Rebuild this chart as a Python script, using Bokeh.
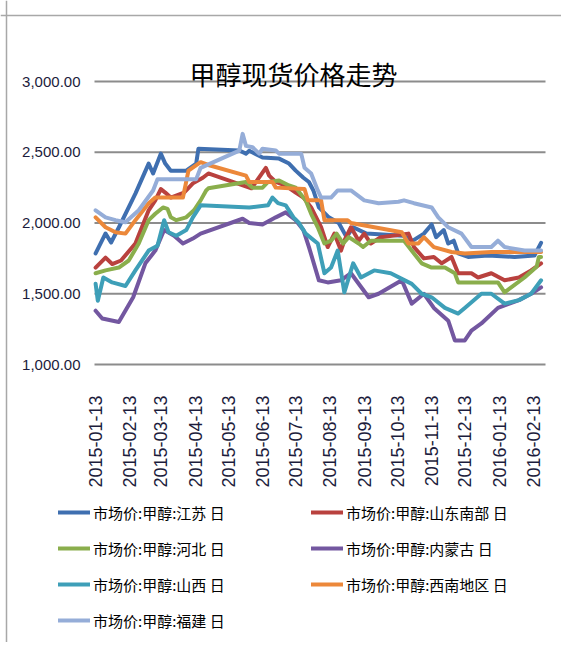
import math
import pandas as pd
from bokeh.plotting import figure
from bokeh.models import (FixedTicker, DatetimeTickFormatter, Legend, LegendItem,
                          Label, Range1d, NumeralTickFormatter, Span)
from bokeh.embed import file_html
from bokeh.resources import INLINE

# ---------------- data ----------------
title_text = "甲醇现货价格走势"

tick_dates = ["2015-01-13", "2015-02-13", "2015-03-13", "2015-04-13", "2015-05-13",
              "2015-06-13", "2015-07-13", "2015-08-13", "2015-09-13", "2015-10-13",
              "2015-11-13", "2015-12-13", "2016-01-13", "2016-02-13"]
y_ticks = [1000, 1500, 2000, 2500, 3000]

series_names = ["市场价:甲醇:江苏 日", "市场价:甲醇:山东南部 日", "市场价:甲醇:河北 日",
                "市场价:甲醇:内蒙古 日", "市场价:甲醇:山西 日", "市场价:甲醇:西南地区 日",
                "市场价:甲醇:福建 日"]
series_colors = ["#3F6FB0", "#B9413E", "#8AAE4C", "#7357A0", "#3E9FB8", "#EC883A", "#95ADD8"]

jiangsu_dates = ["2015-01-13", "2015-01-22", "2015-01-27", "2015-02-03", "2015-02-18",
                 "2015-03-02", "2015-03-06", "2015-03-13", "2015-03-17", "2015-03-22",
                 "2015-04-05", "2015-04-14", "2015-04-16", "2015-05-23", "2015-05-29",
                 "2015-06-01", "2015-06-13", "2015-06-28", "2015-07-07", "2015-07-13",
                 "2015-07-20", "2015-07-25", "2015-07-29", "2015-08-03", "2015-08-12",
                 "2015-08-21", "2015-08-28", "2015-09-03", "2015-09-15", "2015-10-18",
                 "2015-10-27", "2015-11-06", "2015-11-13", "2015-11-17", "2015-11-24",
                 "2015-11-28", "2015-12-03", "2015-12-07", "2015-12-16", "2016-01-03",
                 "2016-01-27", "2016-02-14", "2016-02-20"]
jiangsu_vals = [1785, 1926, 1862, 1968, 2208, 2420, 2350, 2490, 2420, 2370,
                2370, 2420, 2525, 2512, 2490, 2510, 2463, 2455, 2420, 2370,
                2320, 2290, 2230, 2110, 2040, 2000, 1900, 1970, 1925, 1910,
                1875, 1925, 1990, 1900, 1950, 1855, 1875, 1785, 1760, 1770,
                1760, 1770, 1860]

shandong_dates = ["2015-01-13", "2015-01-22", "2015-01-28", "2015-02-05", "2015-02-18",
                  "2015-03-02", "2015-03-08", "2015-03-13", "2015-03-17", "2015-03-22",
                  "2015-04-03", "2015-04-11", "2015-04-20", "2015-04-25", "2015-06-03",
                  "2015-06-16", "2015-06-19", "2015-06-25", "2015-07-04", "2015-07-13",
                  "2015-07-20", "2015-07-27", "2015-08-05", "2015-08-11", "2015-08-17",
                  "2015-08-23", "2015-08-26", "2015-09-01", "2015-09-08", "2015-09-13",
                  "2015-09-19", "2015-09-28", "2015-10-23", "2015-10-28", "2015-11-06",
                  "2015-11-15", "2015-11-22", "2015-12-01", "2015-12-07", "2015-12-19",
                  "2015-12-25", "2016-01-06", "2016-01-18", "2016-01-31", "2016-02-11",
                  "2016-02-20"]
shandong_vals = [1685, 1755, 1710, 1735, 1855, 2090, 2160, 2240, 2215, 2180,
                 2215, 2280, 2320, 2350, 2245, 2390, 2335, 2290, 2265, 2215,
                 2180, 2110, 1970, 1830, 1925, 1805, 1875, 1970, 1875, 1925,
                 1855, 1900, 1925, 1830, 1750, 1760, 1715, 1760, 1645, 1645,
                 1615, 1645, 1595, 1615, 1665, 1715]

hebei_dates = ["2015-01-13", "2015-01-22", "2015-02-03", "2015-02-12", "2015-02-21",
               "2015-03-02", "2015-03-08", "2015-03-15", "2015-03-19", "2015-03-22",
               "2015-03-27", "2015-04-05", "2015-04-12", "2015-04-18", "2015-04-23",
               "2015-04-25", "2015-05-29", "2015-06-04", "2015-06-13", "2015-06-18",
               "2015-06-28", "2015-07-07", "2015-07-13", "2015-07-22", "2015-07-27",
               "2015-08-02", "2015-08-08", "2015-08-14", "2015-08-19", "2015-08-25",
               "2015-08-30", "2015-09-08", "2015-09-12", "2015-09-19", "2015-10-19",
               "2015-10-28", "2015-11-04", "2015-11-13", "2015-11-25", "2015-12-04",
               "2015-12-07", "2016-01-12", "2016-01-18", "2016-02-05", "2016-02-16",
               "2016-02-18", "2016-02-20"]
hebei_vals = [1645, 1665, 1685, 1735, 1855, 2020, 2065, 2110, 2100, 2040,
              2020, 2040, 2090, 2160, 2230, 2245, 2290, 2250, 2250, 2290,
              2300, 2265, 2250, 2160, 2065, 1970, 1855, 1875, 1925, 1855,
              1900, 1855, 1830, 1875, 1875, 1785, 1715, 1685, 1685, 1645,
              1580, 1580, 1510, 1615, 1690, 1760, 1760]

nmg_dates = ["2015-01-13", "2015-01-19", "2015-02-03", "2015-02-16", "2015-02-27",
             "2015-03-08", "2015-03-16", "2015-03-25", "2015-04-02", "2015-04-11",
             "2015-04-18", "2015-05-26", "2015-06-01", "2015-06-13", "2015-06-25",
             "2015-07-04", "2015-07-13", "2015-07-20", "2015-07-25", "2015-08-03",
             "2015-08-11", "2015-08-23", "2015-09-01", "2015-09-17", "2015-09-26",
             "2015-10-17", "2015-10-26", "2015-11-06", "2015-11-15", "2015-11-28",
             "2015-12-04", "2015-12-13", "2015-12-19", "2015-12-28", "2016-01-12",
             "2016-01-31", "2016-02-11", "2016-02-20"]
nmg_vals = [1380, 1325, 1300, 1475, 1715, 1805, 1950, 1910, 1855, 1890,
            1925, 2030, 2000, 1990, 2040, 2075, 2020, 1950, 1830, 1595,
            1580, 1595, 1645, 1475, 1500, 1595, 1430, 1500, 1400, 1310,
            1170, 1170, 1240, 1290, 1400, 1455, 1500, 1545]

shanxi_dates = ["2015-01-13", "2015-01-15", "2015-01-20", "2015-01-28", "2015-02-09",
                "2015-02-18", "2015-03-02", "2015-03-10", "2015-03-16", "2015-03-20",
                "2015-03-27", "2015-04-05", "2015-04-11", "2015-04-18", "2015-06-01",
                "2015-06-18", "2015-06-22", "2015-06-27", "2015-07-04", "2015-07-11",
                "2015-07-16", "2015-07-22", "2015-08-02", "2015-08-08", "2015-08-14",
                "2015-08-20", "2015-08-26", "2015-09-03", "2015-09-10", "2015-09-22",
                "2015-10-07", "2015-10-26", "2015-11-04", "2015-11-13", "2015-11-25",
                "2015-12-07", "2015-12-13", "2015-12-28", "2016-01-06", "2016-01-18",
                "2016-01-31", "2016-02-11", "2016-02-20"]
shanxi_vals = [1570, 1450, 1615, 1580, 1555, 1665, 1805, 1840, 2020, 1935,
               1910, 1950, 2040, 2125, 2110, 2125, 2180, 2140, 2125, 2040,
               2000, 1925, 1855, 1645, 1685, 1805, 1510, 1715, 1615, 1665,
               1645, 1570, 1500, 1475, 1400, 1360, 1400, 1500, 1500, 1430,
               1455, 1500, 1595]

xinan_dates = ["2015-01-13", "2015-01-22", "2015-01-31", "2015-02-09", "2015-02-18",
               "2015-03-02", "2015-03-08", "2015-04-02", "2015-04-07", "2015-04-18",
               "2015-04-25", "2015-05-29", "2015-06-01", "2015-06-22", "2015-06-25",
               "2015-07-21", "2015-07-24", "2015-08-05", "2015-08-08", "2015-08-29",
               "2015-09-01", "2015-10-17", "2015-10-23", "2015-11-01", "2015-11-06",
               "2015-11-15", "2015-12-01", "2015-12-13", "2016-01-06", "2016-02-20"]
xinan_vals = [2040, 1970, 1935, 1925, 2020, 2140, 2180, 2180, 2370, 2430,
              2410, 2335, 2290, 2290, 2250, 2240, 2160, 2160, 2020, 2020,
              2000, 1935, 1855, 1855, 1900, 1830, 1795, 1785, 1795, 1795]

fujian_dates = ["2015-01-13", "2015-01-22", "2015-01-31", "2015-02-09", "2015-02-21",
                "2015-03-06", "2015-03-10", "2015-04-14", "2015-04-18", "2015-05-23",
                "2015-05-26", "2015-05-29", "2015-06-04", "2015-06-10", "2015-06-13",
                "2015-06-25", "2015-06-28", "2015-07-18", "2015-07-21", "2015-07-27",
                "2015-08-02", "2015-08-05", "2015-08-14", "2015-08-20", "2015-09-01",
                "2015-09-13", "2015-09-26", "2015-10-14", "2015-10-19", "2015-10-28",
                "2015-11-13", "2015-11-19", "2015-11-28", "2015-12-10", "2015-12-19",
                "2016-01-06", "2016-01-12", "2016-01-18", "2016-02-05", "2016-02-20"]
fujian_vals = [2090, 2040, 2020, 2005, 2090, 2230, 2310, 2310, 2390, 2512,
               2630, 2545, 2535, 2490, 2525, 2512, 2490, 2490, 2390, 2350,
               2230, 2180, 2180, 2230, 2230, 2160, 2140, 2150, 2160, 2140,
               2110, 2040, 1970, 1925, 1830, 1830, 1875, 1830, 1805, 1805]

all_dates = [jiangsu_dates, shandong_dates, hebei_dates, nmg_dates,
             shanxi_dates, xinan_dates, fujian_dates]
all_vals = [jiangsu_vals, shandong_vals, hebei_vals, nmg_vals,
            shanxi_vals, xinan_vals, fujian_vals]


def ms(d):
    return pd.Timestamp(d).value / 1e6


# ---------------- layout geometry (pixels) ----------------
W, H = 561, 642
X_FIRST_PX, X_LAST_PX = 94.0, 545.0      # gridded plotting area, left/right
Y_HI_PX, Y_LO_PX = 81.0, 364.0           # pixel rows of the 3000 and 1000 lines

x_first = ms("2015-01-12")
x_last = ms("2016-02-24")
px_per_ms = (X_LAST_PX - X_FIRST_PX) / (x_last - x_first)
x_start = x_first - X_FIRST_PX / px_per_ms
x_end = x_start + W / px_per_ms

px_per_unit = (Y_LO_PX - Y_HI_PX) / (y_ticks[-1] - y_ticks[0])
y_top = y_ticks[-1] + Y_HI_PX / px_per_unit
y_start = y_top - H / px_per_unit

p = figure(width=W, height=H, x_axis_type="datetime",
           output_backend="svg", toolbar_location=None,
           x_range=Range1d(x_start, x_end),
           y_range=Range1d(y_start, y_top),
           min_border_left=0, min_border_right=0,
           min_border_top=0, min_border_bottom=0)
p.outline_line_color = None
p.background_fill_color = "white"
p.border_fill_color = "white"
p.xgrid.grid_line_color = None
p.ygrid.grid_line_color = None

# sheet border lines (top and left) seen around the chart
p.add_layout(Span(location=y_top - 15 / px_per_unit, dimension="width",
                  line_color="#a8a8a8", line_width=1.5))
p.add_layout(Span(location=x_start + 6 / px_per_ms, dimension="height",
                  line_color="#a8a8a8", line_width=1.5))

# horizontal gridlines spanning the plotting area only
p.segment(x0=[x_first] * len(y_ticks), x1=[x_last] * len(y_ticks),
          y0=y_ticks, y1=y_ticks, line_color="#8c8c8c", line_width=2)

# y axis (fixed at left edge of plotting area)
p.yaxis.fixed_location = x_first
p.yaxis.ticker = FixedTicker(ticks=y_ticks)
p.yaxis.formatter = NumeralTickFormatter(format="0,0.00")
p.yaxis.axis_line_color = None
p.yaxis.major_tick_line_color = None
p.yaxis.minor_tick_line_color = None
p.yaxis.major_tick_out = 0
p.yaxis.major_tick_in = 0
p.yaxis.major_label_text_font = "Liberation Sans"
p.yaxis.major_label_text_font_size = "15px"
p.yaxis.major_label_text_color = "#1c1c3c"
p.yaxis.major_label_standoff = 14

# x axis (fixed at the 1000 line)
p.xaxis.fixed_location = y_ticks[0]
p.xaxis.ticker = FixedTicker(ticks=[ms(d) for d in tick_dates])
fmt = "%Y-%m-%d"
p.xaxis.formatter = DatetimeTickFormatter(days=fmt, months=fmt, years=fmt,
                                          hours=fmt, minutes=fmt, seconds=fmt)
p.xaxis.major_label_orientation = math.pi / 2
p.xaxis.axis_line_color = None
p.xaxis.major_tick_line_color = None
p.xaxis.minor_tick_line_color = None
p.xaxis.major_tick_out = 0
p.xaxis.major_tick_in = 0
p.xaxis.major_label_standoff = 31
p.xaxis.major_label_text_font = "Liberation Sans"
p.xaxis.major_label_text_font_size = "18px"
p.xaxis.major_label_text_color = "#1c1c3c"

# lines
renderers = []
for d, v, c in zip(all_dates, all_vals, series_colors):
    r = p.line([ms(x) for x in d], v, line_color=c, line_width=4,
               line_join="round", line_cap="round")
    renderers.append(r)

# title inside plot
p.add_layout(Label(x=ms("2015-07-11"), y=3060, text=title_text,
                   text_align="center", text_baseline="middle",
                   text_font="Noto Sans CJK SC", text_font_size="26px",
                   text_color="black"))


def make_legend(idx, loc):
    items = [LegendItem(label=series_names[i], renderers=[renderers[i]]) for i in idx]
    return Legend(items=items, location=loc, orientation="vertical",
                  padding=0, margin=0, spacing=0,
                  glyph_width=32, glyph_height=36, label_height=36,
                  label_standoff=3, border_line_color=None,
                  background_fill_alpha=0,
                  label_text_font="Noto Sans CJK SC",
                  label_text_font_size="15px", label_text_color="black")


# locations: offsets (px) from the bottom-left corner of the canvas
p.add_layout(make_legend([0, 2, 4, 6], (58, 4)))
p.add_layout(make_legend([1, 3, 5], (311, 40)))

open("out.html", "w").write(file_html(p, INLINE, title="甲醇现货价格走势"))
